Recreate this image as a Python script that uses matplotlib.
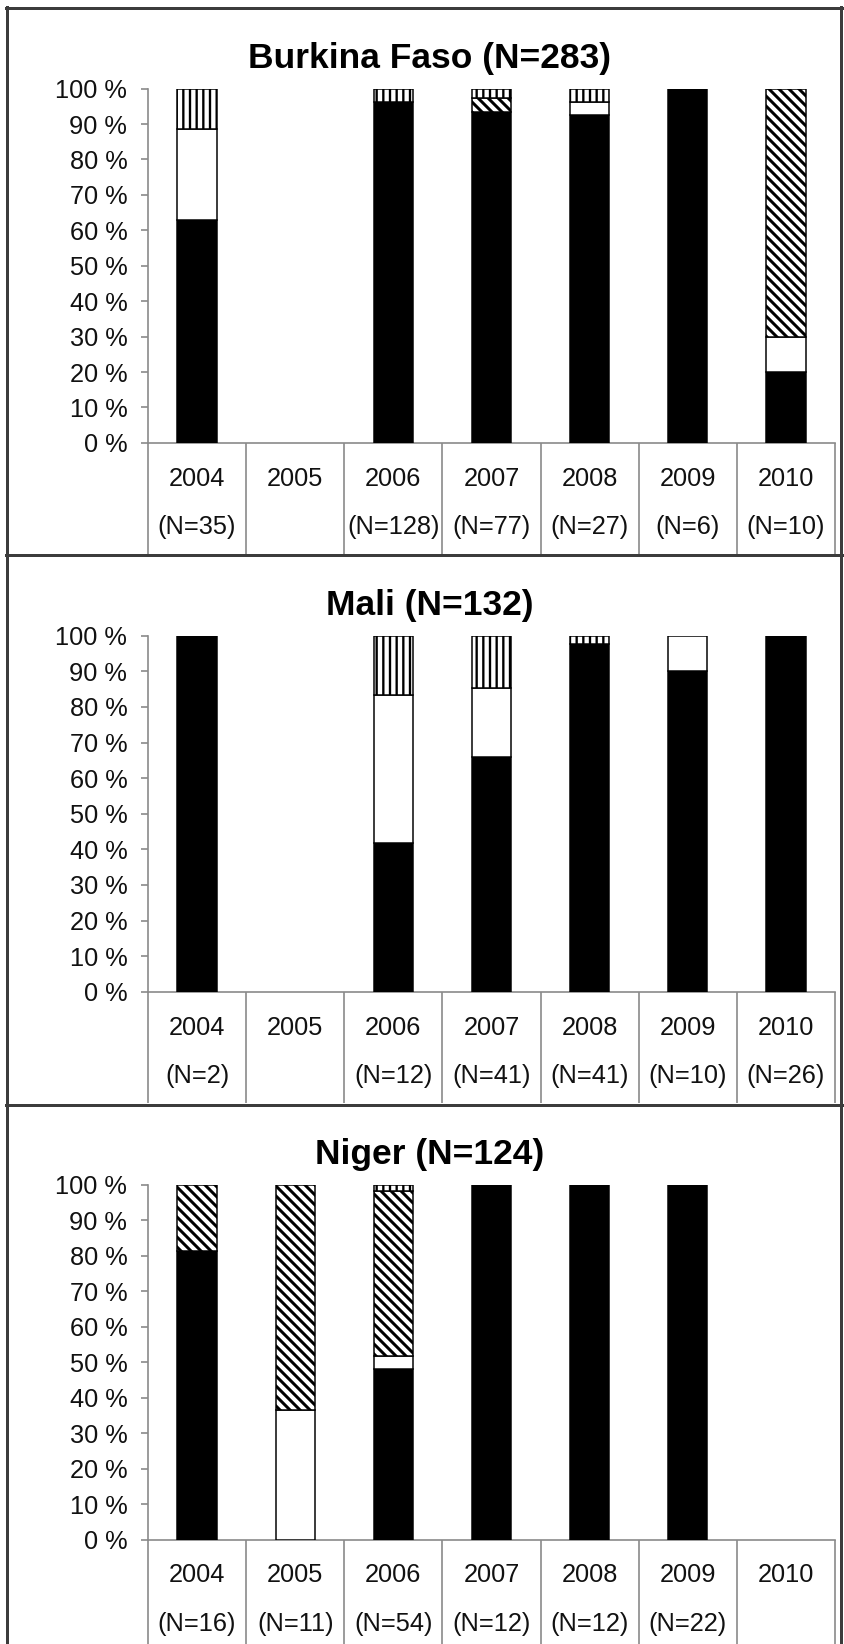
import matplotlib
matplotlib.use('Agg')
import matplotlib.pyplot as plt
from matplotlib.lines import Line2D

plt.rcParams['font.family'] = ['Liberation Sans', 'DejaVu Sans']

# categories
years = ['2004', '2005', '2006', '2007', '2008', '2009', '2010']

# Burkina Faso: share (%) of each group per year
bf_title = 'Burkina Faso (N=283)'
bf_n = [35, None, 128, 77, 27, 6, 10]
bf_black = [62.9, 0, 96.1, 93.5, 92.6, 100, 20]
bf_white = [25.7, 0, 0, 0, 3.7, 0, 10]
bf_diag = [0, 0, 0, 3.9, 0, 0, 70]
bf_vert = [11.4, 0, 3.9, 2.6, 3.7, 0, 0]

# Mali
ml_title = 'Mali (N=132)'
ml_n = [2, None, 12, 41, 41, 10, 26]
ml_black = [100, 0, 41.7, 65.9, 97.6, 90, 100]
ml_white = [0, 0, 41.7, 19.5, 0, 10, 0]
ml_diag = [0, 0, 0, 0, 0, 0, 0]
ml_vert = [0, 0, 16.6, 14.6, 2.4, 0, 0]

# Niger
ng_title = 'Niger (N=124)'
ng_n = [16, 11, 54, 12, 12, 22, None]
ng_black = [81.25, 0, 48.1, 100, 100, 100, 0]
ng_white = [0, 36.4, 3.7, 0, 0, 0, 0]
ng_diag = [18.75, 63.6, 46.3, 0, 0, 0, 0]
ng_vert = [0, 0, 1.9, 0, 0, 0, 0]

W, H, DPI = 844, 1644, 120
GRAY = '#8a8a8a'
FRAME = '#3c3c3c'
TXT = 15.2


def fx(px):
    return px / W


def fy(py):
    return 1 - py / H


def draw_segments(ax, vals, bottom, face, hatch, hatch_lw):
    # skip empty segments so no stray edge lines are drawn
    xs = [i for i, v in enumerate(vals) if v > 0]
    hs = [vals[i] for i in xs]
    bs = [bottom[i] for i in xs]
    with plt.rc_context({'hatch.linewidth': hatch_lw, 'hatch.color': 'black'}):
        bars = ax.bar(xs, hs, bottom=bs, width=0.4, color=face, hatch=hatch,
                      edgecolor='black', linewidth=0.9, zorder=3)
    for b in bars:
        if hasattr(b, 'set_hatch_linewidth'):
            b.set_hatch_linewidth(hatch_lw)
    return [bottom[i] + vals[i] for i in range(len(vals))]


def plot_panel(fig, top_px, zero_px, title, n_vals, black, white, diag, vert):
    span = zero_px - top_px
    ax = fig.add_axes([fx(148), fy(zero_px), fx(835) - fx(148), span / H])
    bottom = [0] * len(years)
    bottom = draw_segments(ax, black, bottom, 'black', None, 1.0)
    bottom = draw_segments(ax, white, bottom, 'white', None, 1.0)
    bottom = draw_segments(ax, diag, bottom, 'white', '\\\\\\\\', 1.8)
    bottom = draw_segments(ax, vert, bottom, 'white', '|||', 1.4)

    ax.set_xlim(-0.5, len(years) - 0.5)
    ax.set_ylim(0, 100)
    ax.set_yticks(range(0, 101, 10))
    ax.set_yticklabels(['%d %%' % v for v in range(0, 101, 10)])
    ax.set_xticks([])
    for s in ['top', 'right']:
        ax.spines[s].set_visible(False)
    for s in ['left', 'bottom']:
        ax.spines[s].set_color(GRAY)
        ax.spines[s].set_linewidth(1.0)
    ax.tick_params(axis='y', length=4.2, width=1.0, color=GRAY, pad=8.2,
                   labelsize=TXT, labelcolor='#111111')

    # table under the axis
    tr = ax.get_xaxis_transform()
    ax.vlines([i - 0.5 for i in range(len(years) + 1)], -111 / span, 0, transform=tr,
              colors=GRAY, linewidth=1.0, clip_on=False)
    for i, yr in enumerate(years):
        ax.text(i, -36 / span, yr, transform=tr, ha='center', va='center',
                fontsize=TXT, color='#111111')
        if n_vals[i] is not None:
            ax.text(i, -84 / span, '(N=%d)' % n_vals[i], transform=tr,
                    ha='center', va='center', fontsize=TXT, color='#111111')

    fig.text(fx(430), fy(top_px - 30), title, ha='center', va='center',
             fontsize=21.2, fontweight='bold', color='black')
    return ax


fig = plt.figure(figsize=(W / DPI, H / DPI), dpi=DPI)

plot_panel(fig, 88.6, 442.9, bf_title, bf_n, bf_black, bf_white, bf_diag, bf_vert)
plot_panel(fig, 635.7, 991.8, ml_title, ml_n, ml_black, ml_white, ml_diag, ml_vert)
plot_panel(fig, 1184.7, 1539.5, ng_title, ng_n, ng_black, ng_white, ng_diag, ng_vert)

# outer frame and panel separators
for y in [8, 555, 1105]:
    fig.add_artist(Line2D([fx(6), fx(842)], [fy(y), fy(y)], color=FRAME, lw=1.8))
for x in [7, 841]:
    fig.add_artist(Line2D([fx(x), fx(x)], [fy(7), fy(1644)], color=FRAME, lw=1.8))

fig.savefig('out.png', dpi=DPI)
